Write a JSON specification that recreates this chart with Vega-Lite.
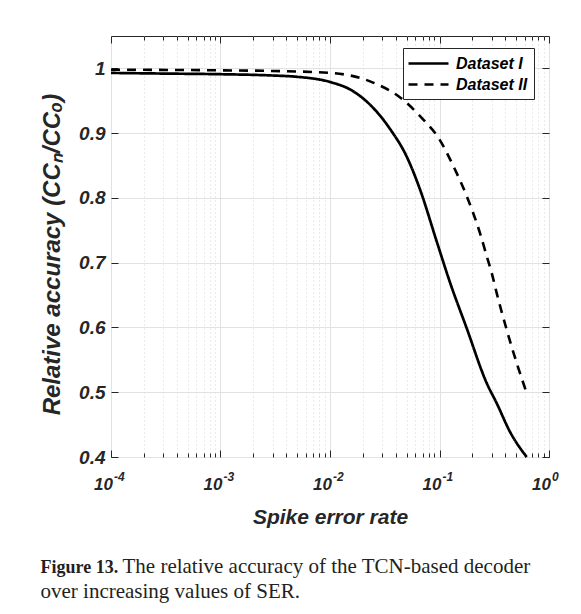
{
  "$schema": "https://vega.github.io/schema/vega-lite/v6.json",
  "width": 438,
  "height": 421,
  "autosize": {"type": "none"},
  "padding": {"left": 111, "top": 36, "right": 32, "bottom": 157},
  "background": "white",
  "datasets": {
    "curves": [
      {"series": "Dataset I", "ser": 0.0001, "acc": 0.993},
      {"series": "Dataset I", "ser": 0.0003, "acc": 0.992},
      {"series": "Dataset I", "ser": 0.001, "acc": 0.991},
      {"series": "Dataset I", "ser": 0.003, "acc": 0.989},
      {"series": "Dataset I", "ser": 0.005, "acc": 0.987},
      {"series": "Dataset I", "ser": 0.01, "acc": 0.979},
      {"series": "Dataset I", "ser": 0.0158, "acc": 0.966},
      {"series": "Dataset I", "ser": 0.0232, "acc": 0.944},
      {"series": "Dataset I", "ser": 0.0355, "acc": 0.906},
      {"series": "Dataset I", "ser": 0.0501, "acc": 0.864},
      {"series": "Dataset I", "ser": 0.0664, "acc": 0.813},
      {"series": "Dataset I", "ser": 0.0942, "acc": 0.733},
      {"series": "Dataset I", "ser": 0.125, "acc": 0.669},
      {"series": "Dataset I", "ser": 0.177, "acc": 0.599},
      {"series": "Dataset I", "ser": 0.27, "acc": 0.514},
      {"series": "Dataset I", "ser": 0.333, "acc": 0.483},
      {"series": "Dataset I", "ser": 0.44, "acc": 0.439},
      {"series": "Dataset I", "ser": 0.625, "acc": 0.4},
      {"series": "Dataset II", "ser": 0.0001, "acc": 0.998},
      {"series": "Dataset II", "ser": 0.001, "acc": 0.997},
      {"series": "Dataset II", "ser": 0.003, "acc": 0.996},
      {"series": "Dataset II", "ser": 0.01, "acc": 0.993},
      {"series": "Dataset II", "ser": 0.0232, "acc": 0.98},
      {"series": "Dataset II", "ser": 0.0437, "acc": 0.955},
      {"series": "Dataset II", "ser": 0.0711, "acc": 0.921},
      {"series": "Dataset II", "ser": 0.0977, "acc": 0.893},
      {"series": "Dataset II", "ser": 0.134, "acc": 0.849},
      {"series": "Dataset II", "ser": 0.177, "acc": 0.803},
      {"series": "Dataset II", "ser": 0.234, "acc": 0.746},
      {"series": "Dataset II", "ser": 0.27, "acc": 0.71},
      {"series": "Dataset II", "ser": 0.3, "acc": 0.684},
      {"series": "Dataset II", "ser": 0.333, "acc": 0.653},
      {"series": "Dataset II", "ser": 0.41, "acc": 0.597},
      {"series": "Dataset II", "ser": 0.507, "acc": 0.545},
      {"series": "Dataset II", "ser": 0.625, "acc": 0.499}
    ],
    "ticks": [
      {"v": 0.0001, "e": "-4"},
      {"v": 0.001, "e": "-3"},
      {"v": 0.01, "e": "-2"},
      {"v": 0.1, "e": "-1"},
      {"v": 1, "e": "0"}
    ]
  },
  "config": {
    "view": {"stroke": "#262626", "strokeWidth": 1},
    "axis": {
      "domain": false,
      "tickColor": "#262626",
      "tickWidth": 1,
      "labelFont": "Liberation Sans",
      "titleFont": "Liberation Sans",
      "labelColor": "#262626",
      "titleColor": "#262626"
    },
    "legend": {
      "orient": "none",
      "legendX": 292,
      "legendY": 12,
      "strokeColor": "#262626",
      "fillColor": "white",
      "padding": 6,
      "rowPadding": 3,
      "symbolType": "M -1.25 0 L 3.75 0",
      "symbolSize": 256,
      "symbolStrokeWidth": 2.6,
      "symbolStrokeColor": "black",
      "symbolFillColor": "transparent",
      "labelFont": "Liberation Sans",
      "labelFontSize": 16,
      "labelFontWeight": "bold",
      "labelFontStyle": "italic",
      "labelColor": "black",
      "labelOffset": 28
    }
  },
  "resolve": {"axis": {"x": "independent", "y": "independent"}},
  "layer": [
    {
      "data": {"name": "curves"},
      "transform": [{"filter": "datum.series === 'Dataset I'"}],
      "mark": {"type": "line", "interpolate": "monotone", "color": "black", "strokeWidth": 2.7},
      "encoding": {
        "x": {
          "field": "ser", "type": "quantitative",
          "scale": {"type": "log", "domain": [0.0001, 1], "nice": false},
          "axis": {
            "orient": "bottom",
            "values": [0.0001, 0.001, 0.01, 0.1, 1],
            "grid": true, "gridColor": "#e2e2e2", "gridWidth": 1,
            "tickSize": -7,
            "labels": false,
            "title": "Spike error rate",
            "titleFontSize": 21, "titleFontWeight": "bold", "titleFontStyle": "italic",
            "titleX": 219, "titleY": 66, "titleAlign": "center", "titleBaseline": "alphabetic"
          }
        },
        "y": {
          "field": "acc", "type": "quantitative",
          "scale": {"domain": [0.4, 1.05], "nice": false, "zero": false},
          "axis": {
            "orient": "left",
            "values": [0.4, 0.5, 0.6, 0.7, 0.8, 0.9, 1],
            "format": "~g",
            "grid": true, "gridColor": "#e2e2e2", "gridWidth": 1,
            "tickSize": -7,
            "labelPadding": 13,
            "labelFontSize": 19, "labelFontWeight": "bold", "labelFontStyle": "italic",
            "title": "Relative accuracy (CCₙ/CCₒ)",
            "titleFontSize": 24, "titleFontWeight": "bold", "titleFontStyle": "italic",
            "titleX": -59, "titleY": 218, "titleAngle": -90, "titleAlign": "center", "titleBaseline": "middle"
          }
        },
        "strokeDash": {
          "field": "series", "type": "nominal",
          "scale": {"domain": ["Dataset I", "Dataset II"], "range": [[1, 0], [9, 7]]},
          "legend": {"title": null}
        }
      }
    },
    {
      "data": {"name": "curves"},
      "transform": [{"filter": "datum.series === 'Dataset II'"}],
      "mark": {"type": "line", "interpolate": "monotone", "color": "black", "strokeWidth": 2.6},
      "encoding": {
        "x": {
          "field": "ser", "type": "quantitative",
          "scale": {"type": "log", "domain": [0.0001, 1], "nice": false},
          "axis": {
            "orient": "top",
            "values": [0.0002, 0.0003, 0.0004, 0.0005, 0.0006, 0.0007, 0.0008, 0.0009, 0.002, 0.003, 0.004, 0.005, 0.006, 0.007, 0.008, 0.009, 0.02, 0.03, 0.04, 0.05, 0.06, 0.07, 0.08, 0.09, 0.2, 0.3, 0.4, 0.5, 0.6, 0.7, 0.8, 0.9],
            "grid": true, "gridColor": "#d4d4d4", "gridWidth": 1, "gridDash": [1, 3],
            "tickSize": -4,
            "labels": false,
            "title": null
          }
        },
        "y": {
          "field": "acc", "type": "quantitative",
          "scale": {"domain": [0.4, 1.05], "nice": false, "zero": false},
          "axis": {
            "orient": "right",
            "values": [0.4, 0.5, 0.6, 0.7, 0.8, 0.9, 1],
            "grid": false,
            "tickSize": -7,
            "labels": false,
            "title": "The relative accuracy of the TCN-based decoder",
            "titleFont": "Liberation Serif", "titleFontSize": 21, "titleFontWeight": "normal", "titleFontStyle": "normal",
            "titleColor": "#231f20",
            "titleX": -427, "titleY": 536, "titleAngle": 0, "titleAlign": "left", "titleBaseline": "alphabetic"
          }
        },
        "strokeDash": {
          "field": "series", "type": "nominal",
          "scale": {"domain": ["Dataset I", "Dataset II"], "range": [[1, 0], [9, 7]]},
          "legend": {"title": null}
        }
      }
    },
    {
      "data": {"name": "ticks"},
      "mark": {"type": "text", "text": "10", "font": "Liberation Sans", "fontSize": 17, "fontWeight": "bold", "fontStyle": "italic", "color": "#262626", "align": "right", "baseline": "alphabetic", "dx": 2, "dy": 33},
      "encoding": {
        "x": {
          "field": "v", "type": "quantitative",
          "scale": {"type": "log", "domain": [0.0001, 1], "nice": false},
          "axis": {
            "orient": "bottom",
            "values": [0.0002, 0.0003, 0.0004, 0.0005, 0.0006, 0.0007, 0.0008, 0.0009, 0.002, 0.003, 0.004, 0.005, 0.006, 0.007, 0.008, 0.009, 0.02, 0.03, 0.04, 0.05, 0.06, 0.07, 0.08, 0.09, 0.2, 0.3, 0.4, 0.5, 0.6, 0.7, 0.8, 0.9],
            "grid": false,
            "tickSize": -4,
            "labels": false,
            "title": "Figure 13.",
            "titleFont": "Liberation Serif", "titleFontSize": 18, "titleFontWeight": "bold", "titleFontStyle": "normal",
            "titleColor": "#231f20",
            "titleX": -71, "titleY": 115, "titleAngle": 0, "titleAlign": "left", "titleBaseline": "alphabetic"
          }
        },
        "y": {"datum": 0.4, "type": "quantitative", "scale": {"domain": [0.4, 1.05], "nice": false, "zero": false}, "axis": null}
      }
    },
    {
      "data": {"name": "ticks"},
      "mark": {"type": "text", "font": "Liberation Sans", "fontSize": 12, "fontWeight": "bold", "fontStyle": "italic", "color": "#262626", "align": "left", "baseline": "alphabetic", "dx": 3, "dy": 24},
      "encoding": {
        "x": {
          "field": "v", "type": "quantitative",
          "scale": {"type": "log", "domain": [0.0001, 1], "nice": false},
          "axis": {
            "orient": "top",
            "values": [0.0001, 0.001, 0.01, 0.1, 1],
            "grid": false,
            "tickSize": -7,
            "labels": false,
            "title": "over increasing values of SER.",
            "titleFont": "Liberation Serif", "titleFontSize": 21, "titleFontWeight": "normal", "titleFontStyle": "normal",
            "titleColor": "#231f20",
            "titleX": -71, "titleY": 561, "titleAngle": 0, "titleAlign": "left", "titleBaseline": "alphabetic"
          }
        },
        "y": {"datum": 0.4, "type": "quantitative", "scale": {"domain": [0.4, 1.05], "nice": false, "zero": false}, "axis": null},
        "text": {"field": "e", "type": "nominal"}
      }
    }
  ]
}
